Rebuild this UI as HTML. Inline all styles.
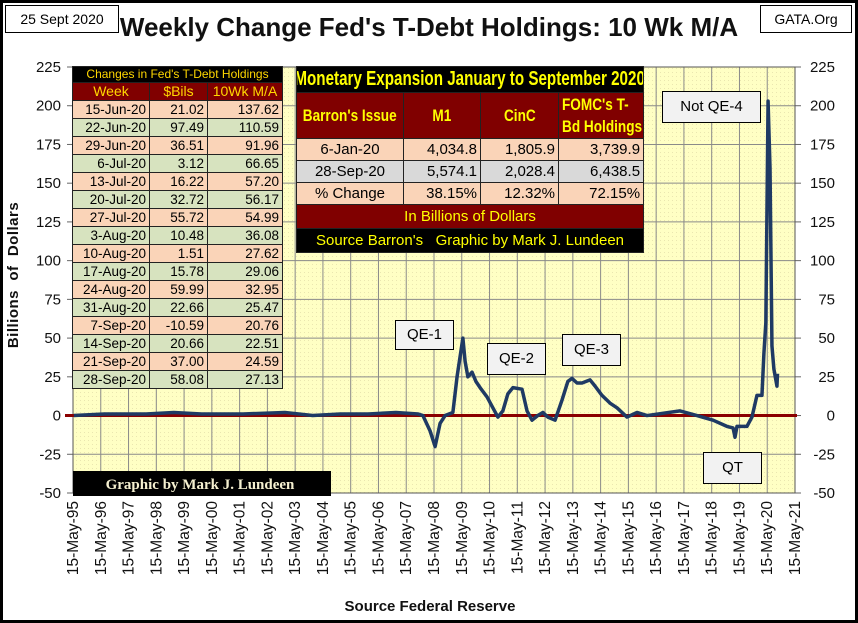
<!DOCTYPE html>
<html><head><meta charset="utf-8">
<style>
body{margin:0;background:#fff;}
#wrap{position:relative;width:858px;height:623px;overflow:hidden;background:#fff;font-family:"Liberation Sans",sans-serif;}
.frame{position:absolute;left:0;top:0;width:852px;height:617px;border:3px solid #000;}
.tbox{position:absolute;border:1.5px solid #000;background:#fff;font-size:14px;text-align:center;line-height:26px;}
.title{position:absolute;left:0;width:858px;top:12px;text-align:center;font-weight:bold;font-size:26px;color:#111;}
table{border-collapse:collapse;position:absolute;table-layout:fixed;}
#lt td{border:1px solid #222;font-size:13.5px;height:17px;padding:0 3px;text-align:right;line-height:17px;white-space:nowrap;overflow:hidden;}
#lt tr.p td{background:#FAD4B8;} #lt tr.g td{background:#D7E3BF;}
#lt .hd td{background:#800000;color:#FFD700;text-align:center;font-size:14px;}
#lt .tt td{background:#000;color:#FFD700;text-align:center;font-size:12px;}
#mt td{border:1px solid #222;font-size:15px;padding:0 3px;white-space:nowrap;overflow:hidden;}
#mt .hd td{background:#800000;color:#FFFF00;font-weight:bold;font-size:17px;text-align:center;}
#mt .bk{background:#000;color:#FFFF00;text-align:center;}
#mt .rd{background:#800000;color:#FFFF00;text-align:center;}
.nx{display:inline-block;transform:scaleX(.8);margin:0 -40px;}
.nxl{display:inline-block;transform:scaleX(.8);transform-origin:left center;text-align:left;line-height:22px;}
</style></head><body>
<div id="wrap">
<div class="frame"></div>
<div class="tbox" style="left:5px;top:5px;width:112px;height:26px;">25 Sept 2020</div>
<div class="tbox" style="left:760px;top:5px;width:90px;height:26px;">GATA.Org</div>
<div class="title">Weekly Change Fed's T-Debt Holdings: 10 Wk M/A</div>

<svg id="svg" width="858" height="623" style="position:absolute;left:0;top:0">
<defs><pattern id="dots" width="4" height="4" patternUnits="userSpaceOnUse"><rect width="4" height="4" fill="#FFFFC4"/><rect width="1" height="1" fill="#EAE6B0"/></pattern></defs>
<rect x="73" y="67" width="722" height="426" fill="url(#dots)"/>
<g id="grid"></g><g id="axes"></g><g id="series"></g>
<text x="18" y="275" transform="rotate(-90 18 275)" text-anchor="middle" font-weight="bold" font-size="15" fill="#111" letter-spacing="0.5" xml:space="preserve">Billions  of  Dollars</text>
<text x="430" y="611" text-anchor="middle" font-weight="bold" font-size="15" fill="#111">Source Federal Reserve</text>
<rect x="73" y="471" width="258" height="25" fill="#000"/>
<text x="200" y="489" text-anchor="middle" font-family="Liberation Serif,serif" font-weight="bold" font-size="15" fill="#F5F0D0">Graphic by Mark J. Lundeen</text>
</svg>

<table id="lt" style="left:72px;top:66px;width:210px;">
<colgroup><col style="width:77px"><col style="width:58px"><col style="width:75px"></colgroup>
<tr class="tt"><td colspan="3" style="height:15px;line-height:15px">Changes in Fed's T-Debt Holdings</td></tr>
<tr class="hd"><td>Week</td><td>$Bils</td><td>10Wk M/A</td></tr>
<tr class="p"><td>15-Jun-20</td><td>21.02</td><td>137.62</td></tr>
<tr class="g"><td>22-Jun-20</td><td>97.49</td><td>110.59</td></tr>
<tr class="p"><td>29-Jun-20</td><td>36.51</td><td>91.96</td></tr>
<tr class="g"><td>6-Jul-20</td><td>3.12</td><td>66.65</td></tr>
<tr class="p"><td>13-Jul-20</td><td>16.22</td><td>57.20</td></tr>
<tr class="g"><td>20-Jul-20</td><td>32.72</td><td>56.17</td></tr>
<tr class="p"><td>27-Jul-20</td><td>55.72</td><td>54.99</td></tr>
<tr class="g"><td>3-Aug-20</td><td>10.48</td><td>36.08</td></tr>
<tr class="p"><td>10-Aug-20</td><td>1.51</td><td>27.62</td></tr>
<tr class="g"><td>17-Aug-20</td><td>15.78</td><td>29.06</td></tr>
<tr class="p"><td>24-Aug-20</td><td>59.99</td><td>32.95</td></tr>
<tr class="g"><td>31-Aug-20</td><td>22.66</td><td>25.47</td></tr>
<tr class="p"><td>7-Sep-20</td><td>-10.59</td><td>20.76</td></tr>
<tr class="g"><td>14-Sep-20</td><td>20.66</td><td>22.51</td></tr>
<tr class="p"><td>21-Sep-20</td><td>37.00</td><td>24.59</td></tr>
<tr class="g"><td>28-Sep-20</td><td>58.08</td><td>27.13</td></tr>
</table>

<table id="mt" style="left:296px;top:66px;width:347px;">
<colgroup><col style="width:107px"><col style="width:77px"><col style="width:78px"><col style="width:85px"></colgroup>
<tr><td colspan="4" class="bk" style="height:25px;font-weight:bold;font-size:20px"><span class="nx" style="transform:scaleX(.76);margin:0 -80px">Monetary Expansion January to September 2020</span></td></tr>
<tr class="hd"><td style="height:45px"><span class="nx">Barron's Issue</span></td><td><span class="nx">M1</span></td><td><span class="nx">CinC</span></td><td style="text-align:left"><span class="nxl">FOMC's T-<br>Bd Holdings</span></td></tr>
<tr style="background:#FAD4B8"><td style="height:21px;text-align:center">6-Jan-20</td><td style="text-align:right">4,034.8</td><td style="text-align:right">1,805.9</td><td style="text-align:right">3,739.9</td></tr>
<tr style="background:#D9D9D9"><td style="height:21px;text-align:center">28-Sep-20</td><td style="text-align:right">5,574.1</td><td style="text-align:right">2,028.4</td><td style="text-align:right">6,438.5</td></tr>
<tr style="background:#FAD4B8"><td style="height:21px;text-align:center">% Change</td><td style="text-align:right">38.15%</td><td style="text-align:right">12.32%</td><td style="text-align:right">72.15%</td></tr>
<tr><td colspan="4" class="rd" style="height:23px">In Billions of Dollars</td></tr>
<tr><td colspan="4" class="bk" style="height:23px">Source Barron's &nbsp; Graphic by Mark J. Lundeen</td></tr>
</table>

<div class="tbox" style="left:395px;top:320px;width:57px;height:28px;background:#F2F2F2;font-size:15px;line-height:28px">QE-1</div>
<div class="tbox" style="left:487px;top:343px;width:57px;height:30px;background:#F2F2F2;font-size:15px;line-height:30px">QE-2</div>
<div class="tbox" style="left:562px;top:334px;width:57px;height:30px;background:#F2F2F2;font-size:15px;line-height:30px">QE-3</div>
<div class="tbox" style="left:703px;top:452px;width:57px;height:30px;background:#F2F2F2;font-size:15px;line-height:30px">QT</div>
<div class="tbox" style="left:662px;top:91px;width:97px;height:30px;background:#F2F2F2;font-size:15px;line-height:30px">Not QE-4</div>

<script>
const yTicks=[-50,-25,0,25,50,75,100,125,150,175,200,225];
const xTickYears=[1995,1996,1997,1998,1999,2000,2001,2002,2003,2004,2005,2006,2007,2008,2009,2010,2011,2012,2013,2014,2015,2016,2017,2018,2019,2020,2021];
const dates=[1995.4,1996.5,1998,1999,2000,2001.5,2003,2004,2005,2006,2007,2007.8,2007.97,2008.23,2008.41,2008.59,2008.77,2009.05,2009.2,2009.41,2009.49,2009.59,2009.74,2009.88,2010.03,2010.28,2010.49,2010.67,2010.85,2011.03,2011.21,2011.54,2011.72,2011.9,2012.11,2012.29,2012.47,2012.73,2012.98,2013.19,2013.34,2013.52,2013.7,2013.99,2014.17,2014.42,2014.71,2014.96,2015.32,2015.68,2016.04,2017.23,2017.84,2018.42,2018.92,2019.14,2019.21,2019.28,2019.64,2019.82,2020.0,2020.18,2020.25,2020.32,2020.4,2020.47,2020.54,2020.61,2020.72,2020.74];
const values=[0,1,1,2,1,1,2,0,1,1,2,1,0,-10,-20,-5,0,2,25,50,35,25,28,22,18,12,5,-1,3,14,18,17,3,-3,0,2,-1,-3,10,22,24,21,21,23,19,13,8,5,-1,2,0,3,0,-3,-7,-8,-14,-7,-7,-1,13,13,40,60,203,160,45,30,19,27];
const NS='http://www.w3.org/2000/svg';
const X0=73,X1=795,Y0=67,Y1=493;
const xs=yr=>X0+(yr-1995.37)/26*(X1-X0);
const ys=v=>Y1-(v+50)/275*(Y1-Y0);
function mk(tag,attrs,parent){const e=document.createElementNS(NS,tag);for(const k in attrs)e.setAttribute(k,attrs[k]);parent.appendChild(e);return e;}
const grid=document.getElementById('grid'),axes=document.getElementById('axes'),series=document.getElementById('series');
yTicks.forEach(t=>{
  const y=ys(t);
  const g=mk('line',{x1:X0,x2:X1,y1:y,y2:y,stroke:'#8a8a8a','stroke-width':1},grid);
  
  
  mk('line',{x1:X0-6,x2:X0,y1:y,y2:y,stroke:'#666'},axes);
  mk('line',{x1:X1,x2:X1+6,y1:y,y2:y,stroke:'#666'},axes);
  const l=mk('text',{x:X0-12,y:y+5,'text-anchor':'end','font-size':15,fill:'#111'},axes);
  l.textContent=t;
  
  
  const r=mk('text',{x:X1+40,y:y+5,'text-anchor':'end','font-size':15,fill:'#111'},axes);
  r.textContent=t;
  
  
});
xTickYears.forEach(yr=>{
  const x=xs(yr+0.37);
  const g=mk('line',{x1:x,x2:x,y1:Y0,y2:Y1,stroke:'#8a8a8a','stroke-width':1},grid);
  
  
  const l=mk('text',{x:0,y:0,'text-anchor':'end','font-size':15.5,fill:'#111',transform:`translate(${x+5},${Y1+8}) rotate(-90)`},axes);
  l.textContent='15-May-'+String(yr%100).padStart(2,'0');
  
  
});
mk('line',{x1:X0,x2:X0,y1:Y0,y2:Y1,stroke:'#666'},axes);
mk('rect',{x:X0,y:Y0,width:X1-X0,height:Y1-Y0,fill:'none',stroke:'#555'},axes);
const zl=mk('line',{x1:X0-8,x2:X1+2,y1:ys(0),y2:ys(0),stroke:'#8B0000','stroke-width':3},series);


const pl=mk('polyline',{points:dates.map((d,i)=>xs(d)+','+ys(values[i])).join(' '),fill:'none',stroke:'#1F3A64','stroke-width':3.5,'stroke-linejoin':'round'},series);


</script>
</div>
</body></html>
